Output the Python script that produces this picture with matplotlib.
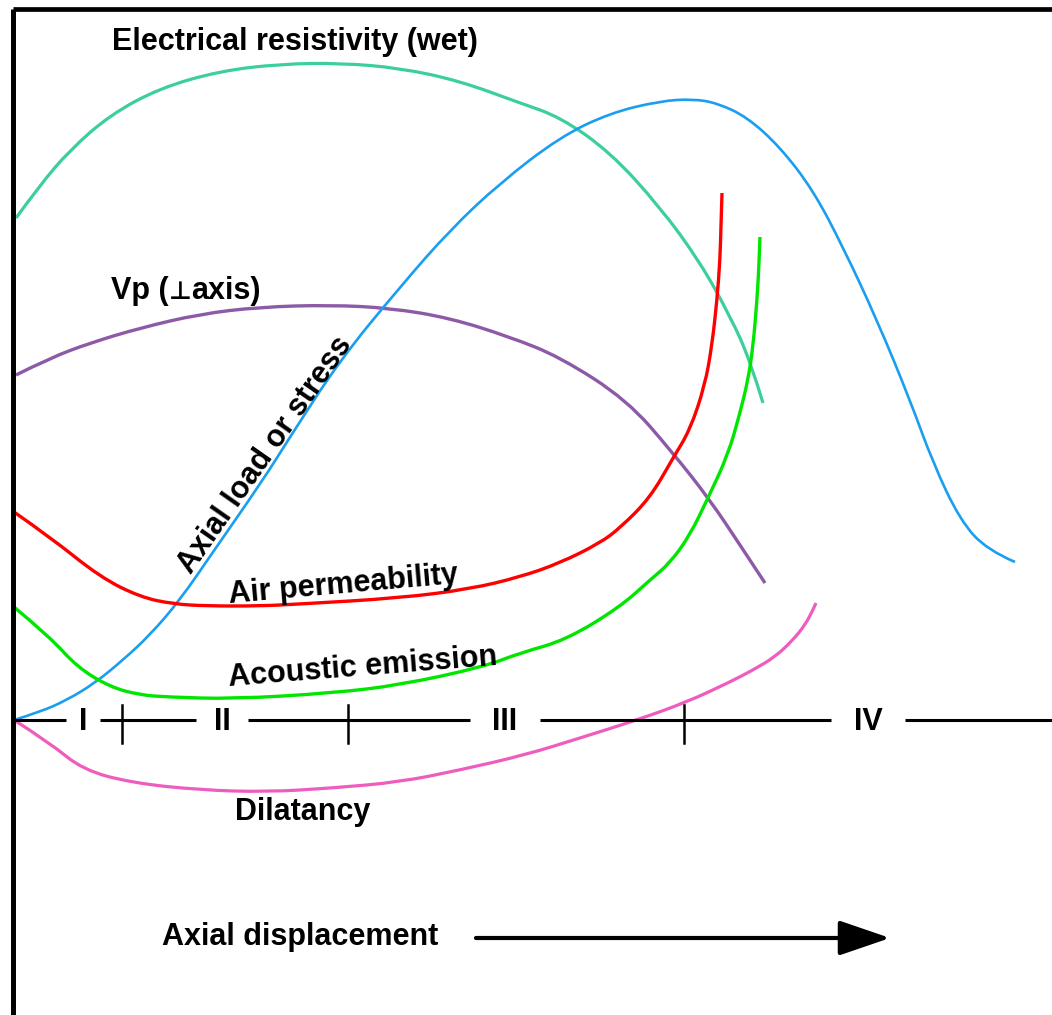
import numpy as np
import matplotlib.pyplot as plt
from matplotlib.path import Path
from matplotlib.patches import PathPatch
from matplotlib.offsetbox import TextArea, HPacker, AnnotationBbox

# Curves: x = axial displacement, y = response (arbitrary units)
resist_x = [2, 26, 56, 96, 146, 206, 266, 326, 386, 446, 506, 546, 596, 646, 686, 716, 736, 749]
resist_y = [502, 535, 570, 605, 632, 649, 656, 657, 652, 639, 617, 603, 568, 513, 458, 404, 360, 317]

stress_x = [0, 26, 53, 81, 109, 136, 166, 199, 249, 276, 326, 386, 436, 486, 546, 596, 646,
            679, 703, 733, 766, 799, 829, 863, 896, 919, 946, 973, 1001]
stress_y = [0, 8, 20, 37, 60, 85, 120, 168, 240, 283, 360, 433, 490, 537, 583, 607, 619,
            621, 617, 603, 573, 530, 473, 400, 320, 257, 200, 170, 158]

vp_x = [2, 36, 76, 126, 186, 246, 316, 376, 436, 496, 546, 613, 659, 696, 726, 751]
vp_y = [345, 362, 377, 392, 406, 413, 415, 412, 402, 383, 363, 320, 267, 220, 175, 137]

perm_x = [0, 36, 86, 126, 159, 193, 246, 286, 386, 456, 506, 546, 586, 606, 636, 659,
          676, 691, 698, 703, 706, 707, 708]
perm_y = [208, 183, 143, 123, 116, 114, 114, 116, 122, 131, 143, 157, 177, 192, 222, 262,
          290, 335, 375, 420, 460, 495, 527]

ae_x = [0, 36, 63, 96, 126, 153, 219, 319, 386, 469, 506, 552, 606, 636, 656, 676, 693,
        714, 726, 734, 739, 743, 745, 746]
ae_y = [113, 83, 53, 33, 25, 23, 21, 27, 35, 53, 67, 80, 113, 140, 157, 185, 220,
        265, 307, 340, 373, 420, 455, 483]

dil_x = [0, 36, 69, 119, 186, 253, 319, 386, 446, 511, 566, 623, 673, 716, 739, 761, 779, 791, 799, 802]
dil_y = [0, -23, -50, -63, -70, -72, -68, -62, -50, -35, -18, 0, 18, 38, 50, 63, 80, 95, 110, 117]

stage_labels = ['I', 'II', 'III', 'IV']
stage_label_x = [69, 208, 491, 854]
stage_ticks = [108, 334, 670]


def smooth_curve(ax, xs, ys, **kw):
    # quadratic bezier through the midpoints, read points act as control points
    p = np.column_stack([xs, ys]).astype(float)
    verts = [p[0]]
    codes = [Path.MOVETO]
    for i in range(1, len(p) - 1):
        end = p[i + 1] if i == len(p) - 2 else (p[i] + p[i + 1]) / 2
        verts += [p[i], end]
        codes += [Path.CURVE3, Path.CURVE3]
    ax.add_patch(PathPatch(Path(verts, codes), fill=False, capstyle='butt', **kw))


fig = plt.figure(figsize=(10.52, 10.15), dpi=100)
ax = fig.add_axes([0, 0, 1, 1])
ax.set_xlim(-14, 1038)
ax.set_ylim(-295, 720)
ax.axis('off')

font = dict(family=['Liberation Sans', 'DejaVu Sans'], fontsize=22, fontweight='bold', color='black')

# frame: thick left axis and top rule
ax.plot([-1.5, -1.5], [-295, 711.5], color='black', lw=3.6, solid_capstyle='butt')
ax.plot([-1.5, 1038], [711.5, 711.5], color='black', lw=3.4, solid_capstyle='butt')

# stage axis with gaps around the roman numerals
gap_half = [17, 26, 35, 37]
edges = [-1]
for cx, g in zip(stage_label_x, gap_half):
    edges += [cx - g, cx + g]
edges.append(1038)
for a, b in zip(edges[::2], edges[1::2]):
    ax.plot([a, b], [0, 0], color='black', lw=2.2, solid_capstyle='butt')
for t in stage_ticks:
    ax.plot([t, t], [15, -23], color='black', lw=1.8)
for lab, cx in zip(stage_labels, stage_label_x):
    ax.text(cx, -2, lab, ha='center', va='center', **font)

# curves
smooth_curve(ax, resist_x, resist_y, edgecolor='#3CCF9C', lw=2.3)
smooth_curve(ax, vp_x, vp_y, edgecolor='#8C5AA6', lw=2.4)
smooth_curve(ax, stress_x, stress_y, edgecolor='#1A9EF0', lw=1.9)
smooth_curve(ax, perm_x, perm_y, edgecolor='#FF0000', lw=2.4)
smooth_curve(ax, ae_x, ae_y, edgecolor='#00E600', lw=2.4)
smooth_curve(ax, dil_x, dil_y, edgecolor='#EE5CBE', lw=2.3)

# labels
ax.text(281, 678, 'Electrical resistivity (wet)', ha='center', va='center', **font)

# Vp label with a small perpendicular sign, baseline aligned
small = dict(font, fontsize=18, family=['DejaVu Sans'])
vp_label = HPacker(children=[TextArea('Vp (', textprops=font),
                             TextArea('\u22a5', textprops=small),
                             TextArea('axis)', textprops=font)],
                   align='baseline', pad=0, sep=0)
ax.add_artist(AnnotationBbox(vp_label, (172, 429), xycoords='data', frameon=False,
                             box_alignment=(0.5, 0.5), pad=0))

ax.text(251, 265, 'Axial load or stress', ha='center', va='center', rotation=55,
        rotation_mode='anchor', **font)
ax.text(329, 135, 'Air permeability', ha='center', va='center', rotation=5,
        rotation_mode='anchor', **font)
ax.text(349, 53, 'Acoustic emission', ha='center', va='center', rotation=4.5,
        rotation_mode='anchor', **font)
ax.text(289, -92, 'Dilatancy', ha='center', va='center', **font)
ax.text(286, -217, 'Axial displacement', ha='center', va='center', **font)

ax.annotate('', xy=(876, -218), xytext=(462, -218),
            arrowprops=dict(arrowstyle='-|>,head_length=1.05,head_width=0.36',
                            lw=3, color='black', mutation_scale=30, shrinkA=0, shrinkB=0))

fig.savefig('out.png', dpi=100, facecolor='white')
